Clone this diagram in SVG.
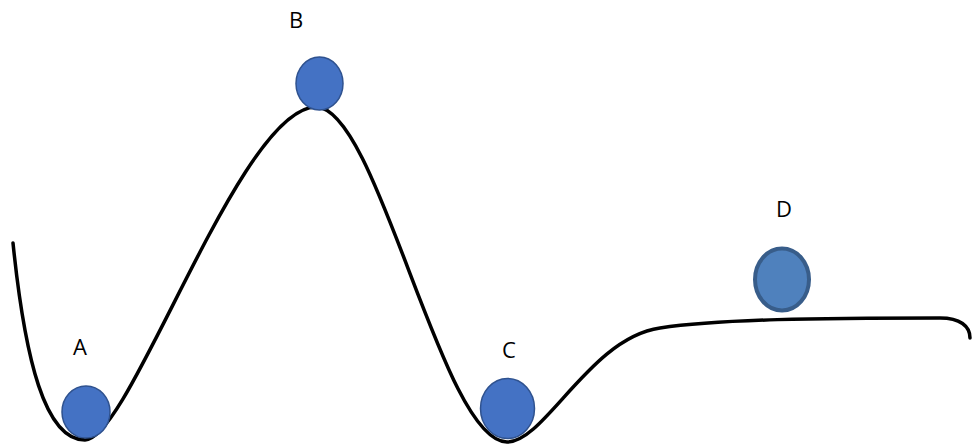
<svg xmlns="http://www.w3.org/2000/svg" width="973" height="447" viewBox="0 0 973 447">
<style>
.lbl{font-family:"Open Sans","Liberation Sans",sans-serif;font-size:22px;fill:#000;text-anchor:middle}
.ball{fill:#4472C4;stroke:#2F528F;stroke-width:1.5}
.ballD{fill:#4F81BD;stroke:#385D8A;stroke-width:4}
.curve{fill:none;stroke:#000;stroke-width:3.5;stroke-linecap:round}
</style>
<rect width="973" height="447" fill="#fff"/>
<g id="connectors">
<path class="curve" d="M 13 243 C 25 360, 45 440, 85 440 C 130 440, 240 107, 316 107 C 378 107, 442 442, 507 442 C 545 442, 590 338, 660 328 C 720 319, 820 318, 940 318 C 960 318, 970 326, 970 338"/>
</g>
<g id="A"><ellipse class="ball" cx="86" cy="412" rx="24" ry="26"/><text class="lbl" x="80" y="355">A</text></g>
<g id="B"><ellipse class="ball" cx="319.5" cy="83.5" rx="23.5" ry="26.5"/><text class="lbl" x="296" y="28">B</text></g>
<g id="C"><ellipse class="ball" cx="507.5" cy="408.5" rx="27" ry="30"/><text class="lbl" x="509" y="358">C</text></g>
<g id="D"><ellipse class="ballD" cx="782" cy="279.5" rx="27" ry="31"/><text class="lbl" x="784" y="217">D</text></g>
</svg>
